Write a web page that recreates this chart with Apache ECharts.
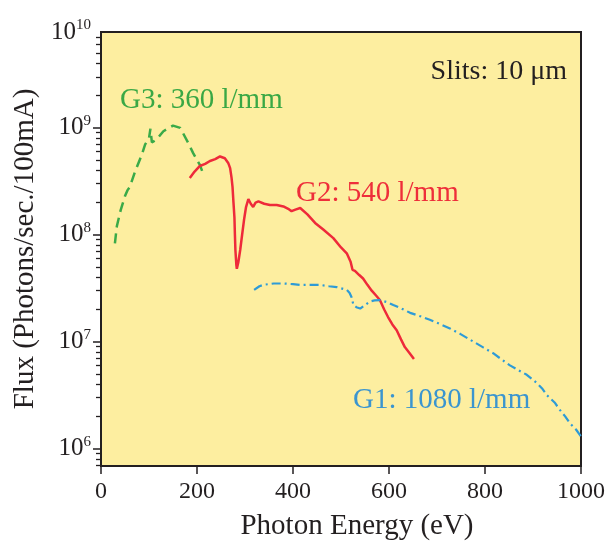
<!DOCTYPE html>
<html>
<head>
<meta charset="utf-8">
<script src="https://cdn.jsdelivr.net/npm/echarts@6/dist/echarts.min.js"></script>
<style>
html,body{margin:0;padding:0;background:#fff;}
#chart{width:607px;height:541px;}
</style>
</head>
<body>
<div id="chart"></div>
<script>
// ---- data ----
const g3Energy = [29, 33, 41, 50, 55, 60, 71, 85, 92, 100, 103, 106, 112, 120, 130, 150, 165, 182, 192, 206, 212];
const g3Flux   = [8.3e7, 1.2e8, 1.7e8, 2.3e8, 2.6e8, 2.8e8, 3.9e8, 5.6e8, 7.0e8, 8.0e8, 9.8e8, 7.3e8, 7.6e8, 8.2e8, 9.3e8, 1.05e9, 1.0e9, 7.2e8, 5.8e8, 4.5e8, 3.8e8];

const g2Energy = [185, 195, 206, 217, 227, 238, 248, 258, 265, 269, 272, 274, 276, 278, 279, 280, 282, 283, 286, 290, 294, 298, 302, 307, 312, 317, 322, 328, 340, 352, 366, 380, 390, 397, 405, 415, 430, 446, 463, 484, 500, 512, 520, 524, 529, 538, 546, 555, 564, 573, 581, 590, 598, 607, 616, 625, 633, 643, 652];
const g2Flux   = [3.4e8, 3.9e8, 4.4e8, 4.6e8, 4.9e8, 5.1e8, 5.4e8, 5.2e8, 4.7e8, 4.2e8, 3.4e8, 2.8e8, 2.0e8, 1.45e8, 1.0e8, 7.2e7, 5.2e7, 4.8e7, 5.5e7, 7.2e7, 1.0e8, 1.38e8, 1.8e8, 2.16e8, 1.95e8, 1.82e8, 2.0e8, 2.05e8, 1.95e8, 1.9e8, 1.9e8, 1.84e8, 1.75e8, 1.66e8, 1.72e8, 1.78e8, 1.55e8, 1.29e8, 1.12e8, 9.3e7, 7.6e7, 6.7e7, 5.6e7, 4.7e7, 4.6e7, 4.2e7, 3.9e7, 3.4e7, 3.0e7, 2.7e7, 2.45e7, 2.0e7, 1.7e7, 1.45e7, 1.28e7, 1.05e7, 8.9e6, 7.8e6, 6.9e6];

const g1Energy = [319, 330, 338, 360, 380, 400, 415, 435, 456, 475, 491, 512, 518, 522, 526, 532, 540, 550, 560, 570, 581, 595, 609, 625, 644, 665, 685, 705, 727, 750, 776, 797, 817, 835, 852, 870, 887, 908, 920, 929, 945, 956, 967, 977, 990, 1000];
const g1Flux   = [3.05e7, 3.3e7, 3.4e7, 3.5e7, 3.5e7, 3.45e7, 3.4e7, 3.4e7, 3.4e7, 3.3e7, 3.24e7, 3.05e7, 2.85e7, 2.6e7, 2.2e7, 2.1e7, 2.04e7, 2.2e7, 2.37e7, 2.43e7, 2.45e7, 2.35e7, 2.2e7, 2.05e7, 1.86e7, 1.73e7, 1.6e7, 1.47e7, 1.33e7, 1.17e7, 1.0e7, 8.8e6, 7.8e6, 6.8e6, 6.0e6, 5.4e6, 4.9e6, 4.1e6, 3.6e6, 3.16e6, 2.7e6, 2.3e6, 2.0e6, 1.72e6, 1.5e6, 1.3e6];

const xTicks = [0, 200, 400, 600, 800, 1000];
const yMajorTicks = [1e6, 1e7, 1e8, 1e9];
const yLabelValues = [1e6, 1e7, 1e8, 1e9, 7.87e9];
const yMin = 6.87e5, yMax = 7.88e9;

const labelG3 = 'G3: 360 l/mm';
const labelG2 = 'G2: 540 l/mm';
const labelG1 = 'G1: 1080 l/mm';
const labelSlits = 'Slits: 10 μm';

// minor log ticks (2..9 per decade)
const yMinorTicks = [];
for (let e = 5; e <= 9; e++) {
  for (let m = 2; m <= 9; m++) {
    const v = m * Math.pow(10, e);
    if (v >= yMin && v <= yMax) yMinorTicks.push(v);
  }
}

const zip = (xs, ys) => xs.map((x, i) => [x, ys[i]]);

const FONT = '"Liberation Serif", "Times New Roman", serif';
const INK = '#231f20';

const chart = echarts.init(document.getElementById('chart'), null, {renderer: 'canvas'});
chart.setOption({
  animation: false,
  backgroundColor: '#ffffff',
  grid: {
    left: 101, right: 26, top: 32, bottom: 75,
    outerBoundsMode: 'none', containLabel: false,
    show: true, backgroundColor: '#fdeea0', borderColor: INK, borderWidth: 2
  },
  xAxis: {
    type: 'value', min: 0, max: 1000, interval: 200,
    name: 'Photon Energy (eV)', nameLocation: 'middle', nameGap: 46,
    nameTextStyle: {fontFamily: FONT, fontSize: 29, color: INK, padding: [0, 0, 0, 32]},
    axisLine: {show: true, lineStyle: {color: INK, width: 2}},
    axisTick: {show: true, inside: false, length: 8, lineStyle: {color: INK, width: 1.5}, customValues: xTicks},
    axisLabel: {fontFamily: FONT, fontSize: 24, color: INK, margin: 14, customValues: xTicks,
      formatter: function (v) { return String(v); }},
    splitLine: {show: false}
  },
  yAxis: [{
    type: 'log', logBase: 10, min: yMin, max: yMax,
    name: 'Flux (Photons/sec./100mA)', nameLocation: 'middle', nameGap: 60,
    nameTextStyle: {fontFamily: FONT, fontSize: 29, color: INK},
    axisLine: {show: true, lineStyle: {color: INK, width: 2}},
    axisTick: {show: true, inside: false, length: 8, lineStyle: {color: INK, width: 1.5}, customValues: yMajorTicks},
    axisLabel: {
      margin: 10, customValues: yLabelValues,
      formatter: function (v) {
        const e = Math.round(Math.log10(v));
        return '{b|10}{s|' + e + '}';
      },
      rich: {
        b: {fontFamily: FONT, fontSize: 25, color: INK, lineHeight: 28},
        s: {fontFamily: FONT, fontSize: 15, color: INK, lineHeight: 16, verticalAlign: 'top'}
      }
    },
    splitLine: {show: false}
  }, {
    type: 'log', logBase: 10, min: yMin, max: yMax, position: 'left',
    axisLine: {show: false},
    axisTick: {show: true, inside: false, length: 5, lineStyle: {color: INK, width: 1.3}, customValues: yMinorTicks},
    axisLabel: {show: false},
    splitLine: {show: false}
  }],
  series: [
    {
      name: labelG3, type: 'line', showSymbol: false, yAxisIndex: 0,
      data: zip(g3Energy, g3Flux),
      lineStyle: {color: '#3aaa48', width: 2.5, type: [10, 6]}
    },
    {
      name: labelG2, type: 'line', showSymbol: false, yAxisIndex: 0,
      data: zip(g2Energy, g2Flux),
      lineStyle: {color: '#ee2a3a', width: 2.5, type: 'solid'}
    },
    {
      name: labelG1, type: 'line', showSymbol: false, yAxisIndex: 0,
      data: zip(g1Energy, g1Flux),
      lineStyle: {color: '#2e9bd6', width: 2.2, type: [9, 4, 2, 4]}
    }
  ],
  graphic: [
    {type: 'text', x: 567, y: 72, style: {text: labelSlits, font: '28px ' + FONT, fill: INK, align: 'right', verticalAlign: 'middle'}},
    {type: 'text', x: 120, y: 100, style: {text: labelG3, font: '29px ' + FONT, fill: '#3aa845', align: 'left', verticalAlign: 'middle'}},
    {type: 'text', x: 296, y: 193, style: {text: labelG2, font: '29px ' + FONT, fill: '#ee2e3a', align: 'left', verticalAlign: 'middle'}},
    {type: 'text', x: 353, y: 400, style: {text: labelG1, font: '29px ' + FONT, fill: '#3b95cf', align: 'left', verticalAlign: 'middle'}}
  ]
});
</script>
</body>
</html>
